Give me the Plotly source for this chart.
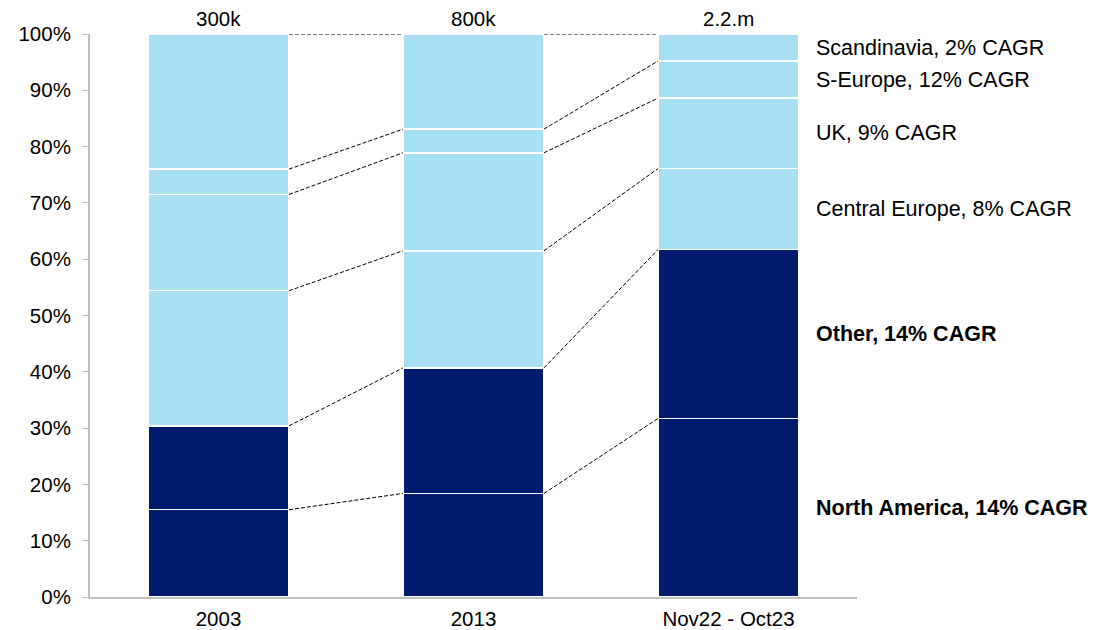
import numpy as np
import plotly.graph_objects as go

# Periods and total volumes shown above each bar
periods = ["2003", "2013", "Nov22 - Oct23"]
totals = ["300k", "800k", "2.2.m"]

# Regional share of total (%), stacked bottom to top
north_america = [15.5, 18.4, 31.7]
other = [14.9, 22.3, 30.0]
central_europe = [24.0, 20.8, 14.4]
uk = [17.1, 17.4, 12.5]
s_europe = [4.5, 4.2, 6.6]
scandinavia = [24.0, 16.9, 4.8]

segment_labels = [
    "North America, 14% CAGR",
    "Other, 14% CAGR",
    "Central Europe, 8% CAGR",
    "UK, 9% CAGR",
    "S-Europe, 12% CAGR",
    "Scandinavia, 2% CAGR",
]
segment_bold = [True, True, False, False, False, False]

NAVY = "#021B6F"
LIGHT = "#A8DFF3"
segments = [north_america, other, central_europe, uk, s_europe, scandinavia]
colors = [NAVY, NAVY, LIGHT, LIGHT, LIGHT, LIGHT]

FONT = "Liberation Sans, Arial, sans-serif"
TICK_SIZE = 20.5
LABEL_SIZE = 21.5
BAR_W = 0.553
x = np.arange(len(periods))

fig = go.Figure()
for vals, col, name in zip(segments, colors, segment_labels):
    fig.add_trace(go.Bar(
        x=x, y=vals, name=name, width=BAR_W,
        marker=dict(color=col, line=dict(color="white", width=1.5)),
        hoverinfo="skip",
    ))

# Dashed connectors joining segment boundaries of neighbouring bars
tops = np.cumsum(np.array(segments), axis=0)
cx, cy = [], []
for level in tops:
    for i in range(len(periods) - 1):
        cx += [x[i] + BAR_W / 2, x[i + 1] - BAR_W / 2, None]
        cy += [level[i], level[i + 1], None]
fig.add_trace(go.Scatter(
    x=cx, y=cy, mode="lines",
    line=dict(color="black", width=1, dash="4px,2px"),
    hoverinfo="skip", showlegend=False,
))

annotations = []
# Totals above bars
for xi, t in zip(x, totals):
    annotations.append(dict(
        x=xi, y=100, xref="x", yref="y", text=t, showarrow=False,
        yanchor="bottom", yshift=2, font=dict(family=FONT, size=TICK_SIZE, color="black"),
    ))
# Segment labels beside the last bar
last = len(periods) - 1
bottoms = tops - np.array(segments)
for k, lab in enumerate(segment_labels):
    mid = (tops[k][last] + bottoms[k][last]) / 2
    text = f"<b>{lab}</b>" if segment_bold[k] else lab
    annotations.append(dict(
        x=x[last] + BAR_W / 2, y=mid, xref="x", yref="y", text=text,
        showarrow=False, xanchor="left", yanchor="middle", xshift=15,
        font=dict(family=FONT, size=LABEL_SIZE, color="black"),
    ))

fig.update_layout(
    barmode="stack",
    width=1117, height=630,
    margin=dict(l=90, r=260, t=34, b=33, autoexpand=False),
    paper_bgcolor="white", plot_bgcolor="white",
    showlegend=False,
    font=dict(family=FONT, size=TICK_SIZE, color="black"),
    annotations=annotations,
    xaxis=dict(
        range=[-0.504, 2.504], tickmode="array", tickvals=list(x), ticktext=periods,
        showgrid=False, zeroline=False, showline=True, linecolor="#BFBFBF", linewidth=2,
        ticks="", automargin=False, ticklabelstandoff=2,
        tickfont=dict(family=FONT, size=TICK_SIZE, color="black"),
    ),
    yaxis=dict(
        range=[0, 100], tickmode="array", tickvals=list(range(0, 101, 10)),
        ticktext=[f"{v}%" for v in range(0, 101, 10)],
        showgrid=False, zeroline=False, showline=True, linecolor="#BFBFBF", linewidth=2,
        ticks="outside", ticklen=6, tickcolor="#BFBFBF", tickwidth=1,
        automargin=False, ticklabelstandoff=7,
        tickfont=dict(family=FONT, size=TICK_SIZE, color="black"),
    ),
)

fig.write_html("out.html")
